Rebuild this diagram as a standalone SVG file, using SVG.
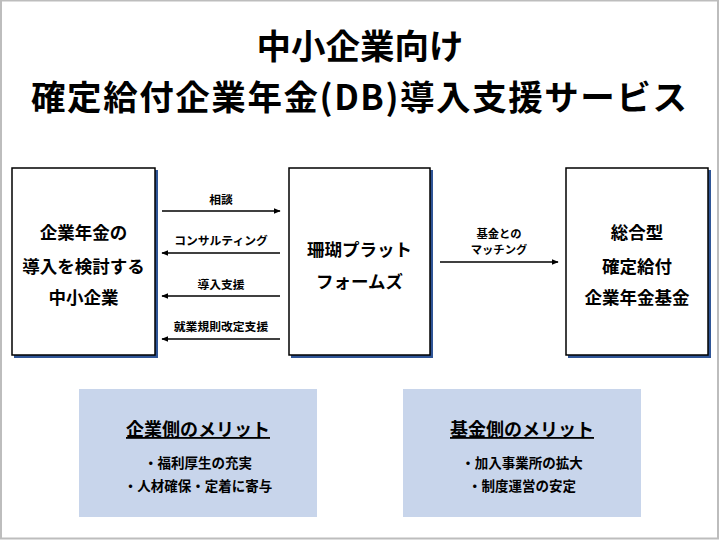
<svg xmlns="http://www.w3.org/2000/svg" width="720" height="540" viewBox="0 0 720 540">
<defs>
<style>
text{font-family:"Noto Sans CJK JP","Noto Sans",sans-serif;font-weight:bold;fill:#000;text-anchor:middle}
.title{font-size:34.5px}
.node{font-size:17.5px}
.lbl{font-size:11.8px}
.lbl2{font-size:11.3px}
.merit-h{font-size:18px;text-decoration:underline}
.merit{font-size:13.5px}
.box{fill:#fff;stroke:#000;stroke-width:1.5}
.shadow{fill:none;stroke:#2f5597;stroke-width:3}
.panel{fill:#c8d5eb}
.conn{stroke:#000;stroke-width:1.6;fill:none}
</style>
<marker id="ah" viewBox="0 0 10 10" refX="9" refY="5" markerWidth="7" markerHeight="7" markerUnits="userSpaceOnUse" orient="auto">
<path d="M0,1 L10,5 L0,9 z" fill="#000"/>
</marker>
</defs>
<rect x="0" y="0" width="720" height="540" fill="#fff"/>
<rect x="1" y="0.5" width="717" height="538" fill="none" stroke="#bdbdbd" stroke-width="2"/>

<g id="title">
<text class="title" x="360" y="59">中小企業向け</text>
<text class="title" x="359" y="110" textLength="656" lengthAdjust="spacing">確定給付企業年金(DB)導入支援サービス</text>
</g>

<g id="sme">
<polyline class="shadow" points="156.5,170 156.5,356.5 14,356.5"/>
<rect class="box" x="12" y="168" width="143" height="187"/>
<text class="node" x="83.5" y="239">企業年金の</text>
<text class="node" x="83.5" y="273">導入を検討する</text>
<text class="node" x="83.5" y="304">中小企業</text>
</g>

<g id="platform">
<polyline class="shadow" points="431.5,170 431.5,356.5 291,356.5"/>
<rect class="box" x="289" y="168" width="141" height="187"/>
<text class="node" x="359.5" y="256">珊瑚プラット</text>
<text class="node" x="359.5" y="288">フォームズ</text>
</g>

<g id="fund">
<polyline class="shadow" points="709.5,170 709.5,356.5 568,356.5"/>
<rect class="box" x="566" y="168" width="142" height="187"/>
<text class="node" x="637" y="239">総合型</text>
<text class="node" x="637" y="273">確定給付</text>
<text class="node" x="637" y="304">企業年金基金</text>
</g>

<g id="connectors">
<line class="conn" x1="162" y1="211" x2="280" y2="211" marker-end="url(#ah)"/>
<text class="lbl" x="221" y="204">相談</text>
<line class="conn" x1="280" y1="253" x2="162" y2="253" marker-end="url(#ah)"/>
<text class="lbl" x="221" y="245">コンサルティング</text>
<line class="conn" x1="280" y1="296" x2="162" y2="296" marker-end="url(#ah)"/>
<text class="lbl" x="221" y="289">導入支援</text>
<line class="conn" x1="280" y1="339" x2="162" y2="339" marker-end="url(#ah)"/>
<text class="lbl" x="221" y="331">就業規則改定支援</text>
<line class="conn" x1="440" y1="262" x2="558" y2="262" marker-end="url(#ah)"/>
<text class="lbl2" x="499" y="238">基金との</text>
<text class="lbl2" x="499" y="254">マッチング</text>
</g>

<g id="merit-company">
<rect class="panel" x="79" y="389" width="238" height="128"/>
<text class="merit-h" x="198" y="436">企業側のメリット</text>
<text class="merit" x="198" y="468">・福利厚生の充実</text>
<text class="merit" x="198" y="491">・人材確保・定着に寄与</text>
</g>

<g id="merit-fund">
<rect class="panel" x="403" y="389" width="238" height="128"/>
<text class="merit-h" x="522" y="436">基金側のメリット</text>
<text class="merit" x="522" y="468">・加入事業所の拡大</text>
<text class="merit" x="522" y="491">・制度運営の安定</text>
</g>
</svg>
